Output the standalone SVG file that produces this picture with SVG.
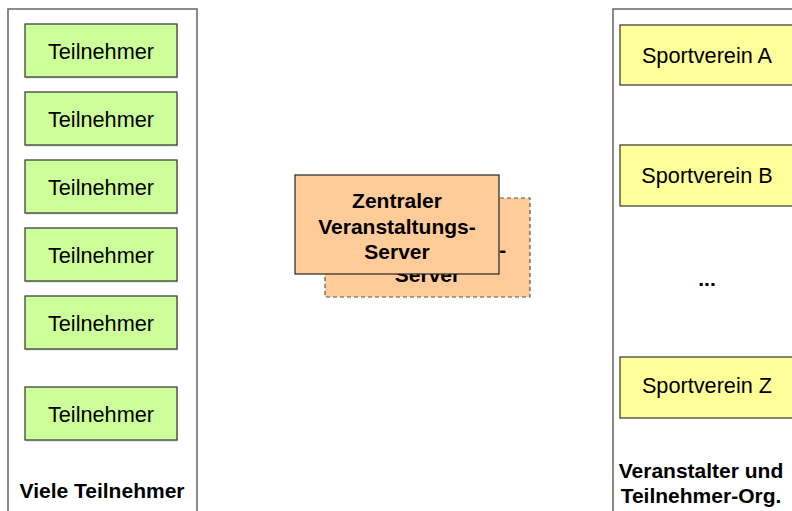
<svg xmlns="http://www.w3.org/2000/svg" width="792" height="511" viewBox="0 0 792 511">
  <style>
    .frame { fill: #ffffff; stroke: #666666; stroke-width: 1.5; }
    .shadow { fill: #d4d4d4; }
    .tn { fill: #ccff99; stroke: #333333; stroke-width: 1.2; }
    .sv { fill: #ffff99; stroke: #333333; stroke-width: 1.2; }
    .srv { fill: #ffcc99; stroke: #222222; stroke-width: 1.2; }
    .srv-back { fill: #ffcc99; stroke: #555555; stroke-width: 1.2; stroke-dasharray: 4 3; }
    .lbl { font-family: "Liberation Sans", Arial, sans-serif; font-size: 21.7px; fill: #000000; text-anchor: middle; }
    .bold { font-family: "Liberation Sans", Arial, sans-serif; font-size: 21px; font-weight: bold; fill: #000000; text-anchor: middle; }
  </style>

  <!-- left column: participants -->
  <g id="teilnehmer-gruppe">
    <rect class="frame" x="8" y="9" width="189" height="520"/>
    <text class="bold" x="102" y="498">Viele Teilnehmer</text>
  </g>
  <g id="teilnehmer-1">
    <rect class="shadow" x="26" y="25.5" width="152" height="53"/>
    <rect class="tn" x="25" y="24" width="152" height="53"/>
    <text class="lbl" x="101" y="59">Teilnehmer</text>
  </g>
  <g id="teilnehmer-2">
    <rect class="shadow" x="26" y="93.5" width="152" height="53"/>
    <rect class="tn" x="25" y="92" width="152" height="53"/>
    <text class="lbl" x="101" y="127">Teilnehmer</text>
  </g>
  <g id="teilnehmer-3">
    <rect class="shadow" x="26" y="161.5" width="152" height="53"/>
    <rect class="tn" x="25" y="160" width="152" height="53"/>
    <text class="lbl" x="101" y="195">Teilnehmer</text>
  </g>
  <g id="teilnehmer-4">
    <rect class="shadow" x="26" y="229.5" width="152" height="53"/>
    <rect class="tn" x="25" y="228" width="152" height="53"/>
    <text class="lbl" x="101" y="263">Teilnehmer</text>
  </g>
  <g id="teilnehmer-5">
    <rect class="shadow" x="26" y="297.5" width="152" height="53"/>
    <rect class="tn" x="25" y="296" width="152" height="53"/>
    <text class="lbl" x="101" y="331">Teilnehmer</text>
  </g>
  <g id="teilnehmer-6">
    <rect class="shadow" x="26" y="388.5" width="152" height="53"/>
    <rect class="tn" x="25" y="387" width="152" height="53"/>
    <text class="lbl" x="101" y="422">Teilnehmer</text>
  </g>

  <!-- central server (with stacked replica behind) -->
  <g id="server-replika">
    <rect class="srv-back" x="325" y="198" width="205" height="99"/>
    <text class="bold" x="427.5" y="231">Zentraler</text>
    <text class="bold" x="427.5" y="257">Veranstaltungs-</text>
    <text class="bold" x="427.5" y="282">Server</text>
  </g>
  <g id="server">
    <rect class="srv" x="295" y="175" width="204" height="99"/>
    <text class="bold" x="397" y="208">Zentraler</text>
    <text class="bold" x="397" y="234">Veranstaltungs-</text>
    <text class="bold" x="397" y="259">Server</text>
  </g>

  <!-- right column: organisers and clubs -->
  <g id="veranstalter-gruppe">
    <rect class="frame" x="613" y="9" width="200" height="520"/>
    <text class="bold" x="701" y="478">Veranstalter und</text>
    <text class="bold" x="701" y="503">Teilnehmer-Org.</text>
    <text class="bold" x="707" y="286">...</text>
  </g>
  <g id="sportverein-a">
    <rect class="sv" x="620" y="25" width="180" height="60"/>
    <text class="lbl" x="707" y="63">Sportverein A</text>
  </g>
  <g id="sportverein-b">
    <rect class="sv" x="620" y="145" width="180" height="61"/>
    <text class="lbl" x="707" y="183">Sportverein B</text>
  </g>
  <g id="sportverein-z">
    <rect class="sv" x="620" y="357" width="180" height="61"/>
    <text class="lbl" x="707" y="393">Sportverein Z</text>
  </g>

  <g id="connectors"/>
</svg>
